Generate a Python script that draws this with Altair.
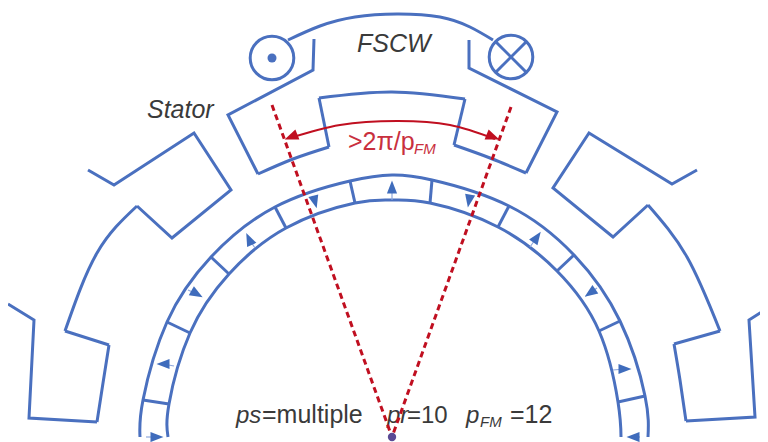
import altair as alt
import pandas as pd

BLUE = "#4a70bf"
RED = "#c00f20"
INK = "#3a3a3a"
ARROW = "M0,-1L0.78,1L-0.78,1Z"

# polylines with sharp corners (picture coordinates)
straight = {
    "stator_left_a": [(314, 39), (313, 70), (228, 115), (258, 174)],
    "stator_mid_l": [(329, 147), (319, 98)],
    "stator_mid_r": [(465, 99), (454, 145)],
    "stator_right_a": [(526, 173), (557, 112), (469, 68), (469, 40)],
    "tooth_l1": [(88, 170), (114, 185), (194, 133), (231, 190), (172, 238), (137, 206)],
    "tooth_l2": [(65, 331), (109, 345)],
    "tooth_l3": [(97, 422), (29, 418), (34, 320), (8, 304)],
    "tooth_r1": [(697, 170), (672, 184), (589, 133), (553, 188), (613, 237), (648, 205)],
    "tooth_r2": [(720, 331), (674, 344)],
    "tooth_r3": [(686, 421), (755, 417), (749, 320), (768, 308)],
    "sp1": [(143, 400), (169, 404)],
    "sp2": [(167, 322), (190, 333)],
    "sp3": [(211, 257), (229, 274)],
    "sp4": [(275, 207), (286, 228)],
    "sp5": [(350, 181), (355, 203)],
    "sp6": [(432, 180), (430, 203)],
    "sp7": [(509, 206), (498, 227)],
    "sp8": [(574, 255), (557, 271)],
    "sp9": [(620, 321), (599, 331)],
    "sp10": [(645, 396), (618, 402)],
    "cross1": [(496, 42), (526, 72)],
    "cross2": [(526, 42), (496, 72)],
}
# smooth arcs
curved = {
    "coil": [(288, 40), (320, 26), (355, 17), (397, 14), (440, 17), (470, 27), (493, 40)],
    "arc_l": [(258, 174), (293, 159), (329, 147)],
    "arc_top": [(319, 98), (392, 92), (465, 99)],
    "arc_r": [(454, 145), (490, 158), (526, 173)],
    "arc_tl": [(137, 206), (97, 253), (65, 331)],
    "arc_bl": [(109, 345), (103, 383), (97, 422)],
    "arc_tr": [(648, 205), (687, 257), (720, 331)],
    "arc_br": [(674, 344), (680, 380), (686, 421)],
    "rotor_out": [(140, 437), (143, 400), (167, 322), (211, 257), (275, 207), (350, 181), (392, 175),
                  (432, 180), (509, 206), (574, 255), (620, 321), (645, 396), (648, 437)],
    "rotor_in": [(168, 437), (169, 404), (190, 333), (229, 274), (286, 228), (355, 203), (392, 200),
                 (430, 203), (498, 227), (557, 271), (599, 331), (618, 402), (621, 437)],
}
red_arc = {"span": [(290, 138), (340, 125), (397, 121), (450, 125), (495, 139)]}
red_dash = {"left": [(272, 105), (392, 437)], "right": [(511, 107), (392, 437)]}

# magnet arrows: centre, direction, tail
arrow_x = [157, 163, 197, 249, 315, 392, 469, 537, 590, 625, 633]
arrow_y = [437, 364, 294, 239, 202, 187, 201, 237, 293, 369, 437]
arrow_dir = [90, 270, 120, 335, 165, 0, 190, 35, 235, 90, 270]
tails = {
    "t1": [(146, 437), (157, 437)], "t2": [(174, 366), (163, 364)], "t3": [(188, 290), (197, 294)],
    "t4": [(255, 248), (249, 239)], "t5": [(312, 196), (315, 202)], "t6": [(392, 200), (392, 187)],
    "t7": [(467, 196), (469, 201)], "t8": [(530, 247), (537, 237)], "t9": [(597, 288), (590, 293)],
    "t10": [(613, 370), (625, 369)], "t11": [(640, 437), (633, 437)],
}

red_x, red_y, red_dir = [291, 493], [137, 137], [248, 112]

ring_x, ring_y = [272, 511], [58, 57]
dot_x, dot_y = [272], [58]
pivot_x, pivot_y = [392], [437]

italic_black = [("FSCW", 357, 52, 25), ("Stator", 147, 118, 25), ("ps", 236, 423, 24), ("pr", 387, 423, 24),
                ("p", 466, 423, 24), ("FM", 480, 427, 15)]
plain_black = [("=multiple", 262, 423, 25), ("=10", 407, 423, 24), ("=12", 510, 423, 25)]
red_plain = [(">2π/p", 348, 150, 25)]
red_italic = [("FM", 414, 154, 15)]


def paths(d):
    rows = []
    for name, pts in d.items():
        for i, (x, y) in enumerate(pts):
            rows.append({"g": name, "i": i, "x": x, "y": y})
    return pd.DataFrame(rows)


def texts(items):
    return pd.DataFrame(items, columns=["t", "x", "y", "s"])


X = alt.X("x:Q", scale=alt.Scale(domain=[8, 760]), axis=None)
Y = alt.Y("y:Q", scale=alt.Scale(domain=[442, 8]), axis=None)
enc = dict(x=X, y=Y, detail="g:N", order="i:Q")


def text_layer(items, color, style):
    return alt.Chart(texts(items)).mark_text(
        font="Liberation Sans", align="left", baseline="alphabetic", color=color, fontStyle=style
    ).encode(x=X, y=Y, text="t:N", size=alt.Size("s:Q", scale=None, legend=None))


layers = [
    alt.Chart(paths(straight)).mark_line(color=BLUE, strokeWidth=3).encode(**enc),
    alt.Chart(paths(curved)).mark_line(color=BLUE, strokeWidth=3, interpolate="natural").encode(**enc),
    alt.Chart(paths(tails)).mark_line(color="#8fa8dc", strokeWidth=1.2).encode(**enc),
    alt.Chart(pd.DataFrame({"x": ring_x, "y": ring_y})).mark_point(
        shape="circle", size=1900, color=BLUE, filled=False, strokeWidth=3, opacity=1).encode(x=X, y=Y),
    alt.Chart(pd.DataFrame({"x": dot_x, "y": dot_y})).mark_point(
        shape="circle", size=81, color=BLUE, filled=True, opacity=1).encode(x=X, y=Y),
    alt.Chart(pd.DataFrame({"x": arrow_x, "y": arrow_y, "a": arrow_dir})).mark_point(
        shape=ARROW, size=170, color="#3f6cbc", filled=True, opacity=1).encode(
        x=X, y=Y, angle=alt.Angle("a:Q", scale=None)),
    text_layer(italic_black, INK, "italic"),
    text_layer(plain_black, INK, "normal"),
    text_layer(red_plain, "#c9303e", "normal"),
    text_layer(red_italic, "#c9303e", "italic"),
    alt.Chart(paths(red_dash)).mark_line(color=RED, strokeWidth=3, strokeDash=[6, 4]).encode(**enc),
    alt.Chart(paths(red_arc)).mark_line(color=RED, strokeWidth=2, interpolate="natural").encode(**enc),
    alt.Chart(pd.DataFrame({"x": red_x, "y": red_y, "a": red_dir})).mark_point(
        shape=ARROW, size=190, color=RED, filled=True, opacity=1).encode(
        x=X, y=Y, angle=alt.Angle("a:Q", scale=None)),
    alt.Chart(pd.DataFrame({"x": pivot_x, "y": pivot_y})).mark_point(
        shape="circle", size=70, color="#5a4a94", filled=True, opacity=1).encode(x=X, y=Y),
]

chart = alt.layer(*layers).properties(
    width=752, height=434, padding=0, autosize=alt.AutoSizeParams(type="none"), background="white"
).configure_view(stroke=None)

chart.save("out.html", embed_options={"renderer": "svg", "actions": False})
